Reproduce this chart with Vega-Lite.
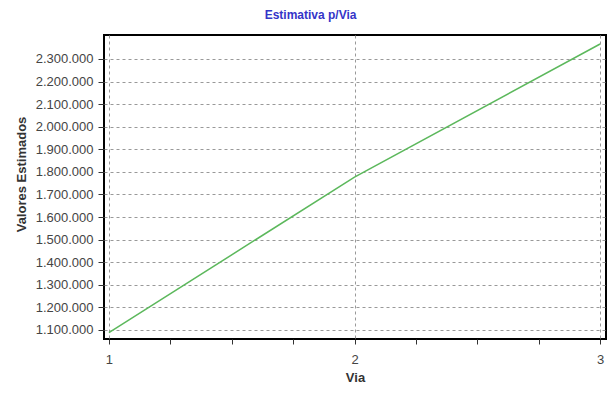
{
  "$schema": "https://vega.github.io/schema/vega-lite/v6.json",
  "width": 502,
  "height": 304,
  "autosize": {"type": "none"},
  "padding": {"left": 104, "top": 35, "right": 9, "bottom": 63},
  "background": "white",
  "config": {
    "locale": {"number": {"decimal": ",", "thousands": ".", "grouping": [3], "currency": ["", ""]}},
    "font": "Liberation Sans",
    "view": {"stroke": "black", "strokeWidth": 2}
  },
  "title": {
    "text": "Estimativa p/Via",
    "color": "#3535c8",
    "fontSize": 12,
    "fontWeight": "bold",
    "font": "Liberation Sans",
    "anchor": "middle",
    "frame": "bounds",
    "offset": 13
  },
  "data": {
    "values": [
      {"Via": 1, "Valor": 1088000},
      {"Via": 2, "Valor": 1777000},
      {"Via": 3, "Valor": 2366000}
    ]
  },
  "mark": {"type": "line", "color": "#5cb85c", "strokeWidth": 1.5, "clip": true},
  "encoding": {
    "x": {
      "field": "Via",
      "type": "quantitative",
      "scale": {"domain": [0.98, 3.024], "nice": false, "zero": false},
      "axis": {
        "title": "Via",
        "titleFontSize": 13,
        "titleFontWeight": "bold",
        "titleColor": "#333333",
        "titlePadding": 5,
        "values": [1, 1.25, 1.5, 1.75, 2, 2.25, 2.5, 2.75, 3],
        "labelExpr": "datum.value % 1 === 0 ? format(datum.value, 'd') : ''",
        "labelFontSize": 13,
        "labelColor": "#444444",
        "labelPadding": 9,
        "tickColor": "#333333",
        "tickSize": 5,
        "domain": false,
        "gridColor": "#999999",
        "gridDash": [3, 3],
        "gridOpacity": {"condition": {"test": "datum.value % 1 !== 0", "value": 0}, "value": 1}
      }
    },
    "y": {
      "field": "Valor",
      "type": "quantitative",
      "scale": {"domain": [1060000, 2406000], "nice": false, "zero": false},
      "axis": {
        "title": "Valores Estimados",
        "titleFontSize": 13,
        "titleFontWeight": "bold",
        "titleColor": "#333333",
        "titlePadding": 7,
        "titleY": 139,
        "values": [1100000, 1200000, 1300000, 1400000, 1500000, 1600000, 1700000, 1800000, 1900000, 2000000, 2100000, 2200000, 2300000],
        "format": ",d",
        "labelFontSize": 13,
        "labelColor": "#444444",
        "labelPadding": 5,
        "tickColor": "#333333",
        "tickSize": 6,
        "domain": false,
        "gridColor": "#999999",
        "gridDash": [3, 3]
      }
    }
  }
}
